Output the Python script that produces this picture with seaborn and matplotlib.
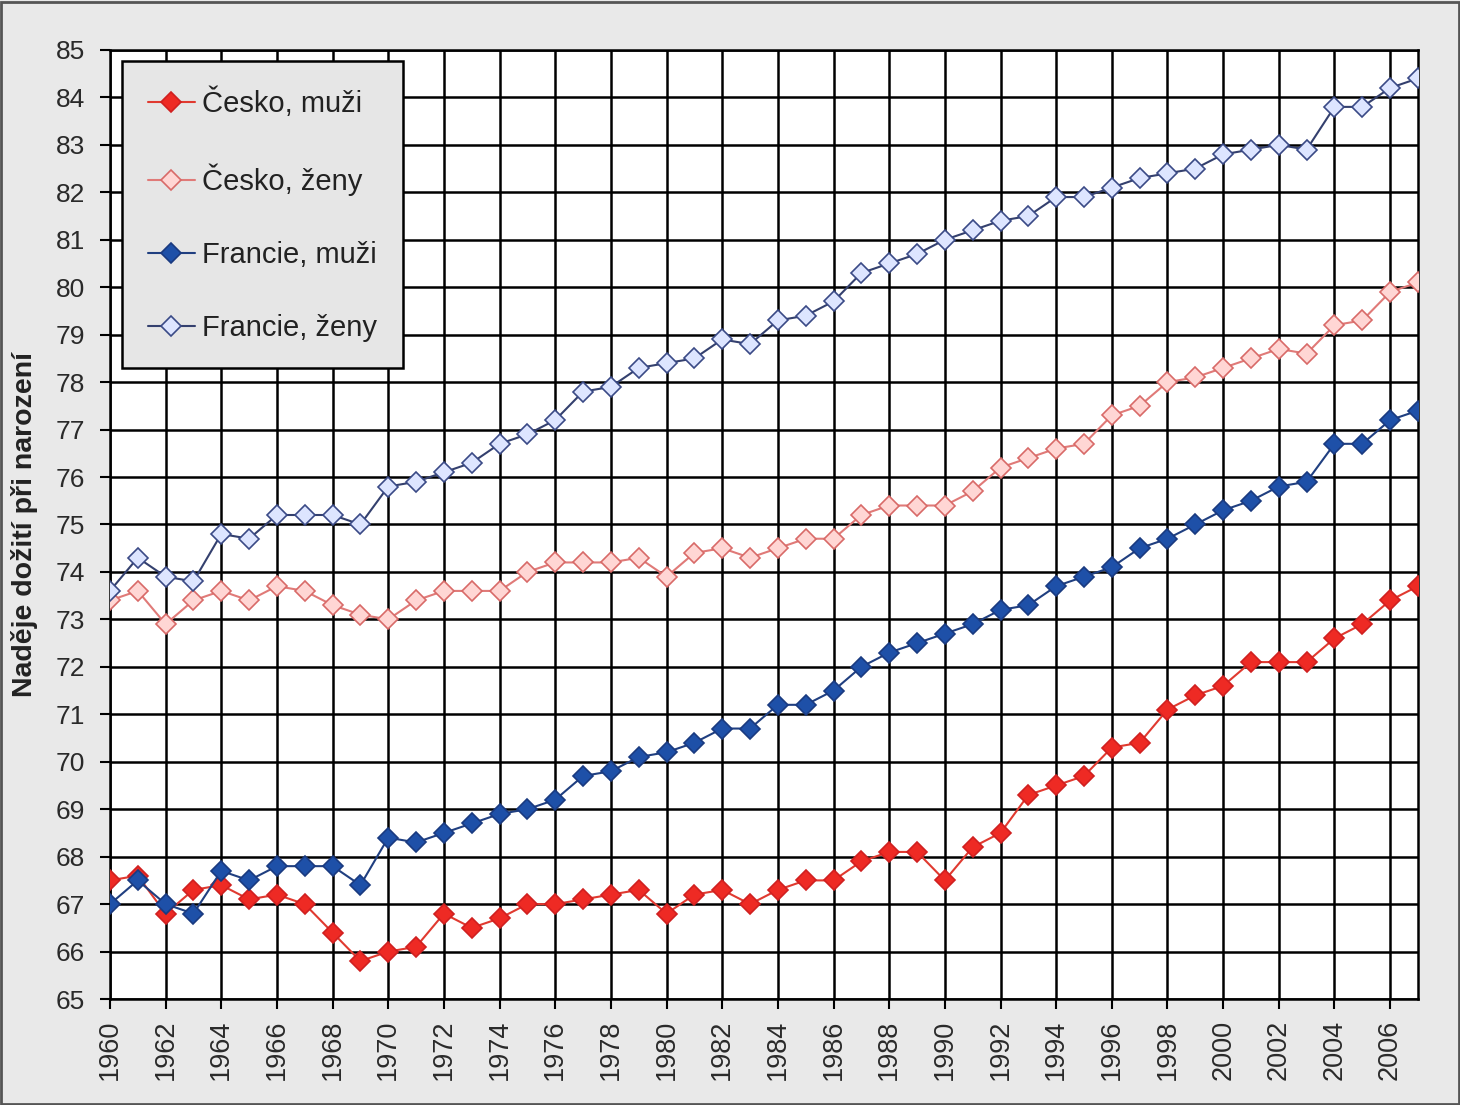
import numpy as np
import pandas as pd
import matplotlib
matplotlib.use('Agg')
import matplotlib.pyplot as plt
import seaborn as sns
from matplotlib.patches import Rectangle

years = list(range(1960, 2008))

cz_muzi = [67.5, 67.6, 66.8, 67.3, 67.4, 67.1, 67.2, 67.0, 66.4, 65.8,
           66.0, 66.1, 66.8, 66.5, 66.7, 67.0, 67.0, 67.1, 67.2, 67.3,
           66.8, 67.2, 67.3, 67.0, 67.3, 67.5, 67.5, 67.9, 68.1, 68.1,
           67.5, 68.2, 68.5, 69.3, 69.5, 69.7, 70.3, 70.4, 71.1, 71.4,
           71.6, 72.1, 72.1, 72.1, 72.6, 72.9, 73.4, 73.7]
cz_zeny = [73.4, 73.6, 72.9, 73.4, 73.6, 73.4, 73.7, 73.6, 73.3, 73.1,
           73.0, 73.4, 73.6, 73.6, 73.6, 74.0, 74.2, 74.2, 74.2, 74.3,
           73.9, 74.4, 74.5, 74.3, 74.5, 74.7, 74.7, 75.2, 75.4, 75.4,
           75.4, 75.7, 76.2, 76.4, 76.6, 76.7, 77.3, 77.5, 78.0, 78.1,
           78.3, 78.5, 78.7, 78.6, 79.2, 79.3, 79.9, 80.1]
fr_muzi = [67.0, 67.5, 67.0, 66.8, 67.7, 67.5, 67.8, 67.8, 67.8, 67.4,
           68.4, 68.3, 68.5, 68.7, 68.9, 69.0, 69.2, 69.7, 69.8, 70.1,
           70.2, 70.4, 70.7, 70.7, 71.2, 71.2, 71.5, 72.0, 72.3, 72.5,
           72.7, 72.9, 73.2, 73.3, 73.7, 73.9, 74.1, 74.5, 74.7, 75.0,
           75.3, 75.5, 75.8, 75.9, 76.7, 76.7, 77.2, 77.4]
fr_zeny = [73.6, 74.3, 73.9, 73.8, 74.8, 74.7, 75.2, 75.2, 75.2, 75.0,
           75.8, 75.9, 76.1, 76.3, 76.7, 76.9, 77.2, 77.8, 77.9, 78.3,
           78.4, 78.5, 78.9, 78.8, 79.3, 79.4, 79.7, 80.3, 80.5, 80.7,
           81.0, 81.2, 81.4, 81.5, 81.9, 81.9, 82.1, 82.3, 82.4, 82.5,
           82.8, 82.9, 83.0, 82.9, 83.8, 83.8, 84.2, 84.4]

labels = ['Česko, muži', 'Česko, ženy', 'Francie, muži', 'Francie, ženy']

df = pd.DataFrame({
    'rok': years * 4,
    'hodnota': cz_muzi + cz_zeny + fr_muzi + fr_zeny,
    'serie': [l for l in labels for _ in years],
})

# line colour, marker face, marker edge
styles = {
    'Česko, muži': ('#e03a30', '#ee2a24', '#d02020'),
    'Česko, ženy': ('#e07a78', '#ffd6d4', '#d86a68'),
    'Francie, muži': ('#203f80', '#1e50a8', '#1a3a80'),
    'Francie, ženy': ('#34406e', '#dde5ff', '#3a4a86'),
}

sns.set_style('white')
plt.rcParams['font.family'] = ['Liberation Sans', 'DejaVu Sans']

fig = plt.figure(figsize=(14.6, 11.05), dpi=100, facecolor='#e9e9e9')
ax = fig.add_axes([0.0753, 0.0959, 0.8959, 0.8589])
ax.set_facecolor('white')

for lab in labels:
    lc, fc, ec = styles[lab]
    sub = df[df['serie'] == lab]
    sns.lineplot(data=sub, x='rok', y='hodnota', ax=ax, color=lc, lw=1.5,
                 marker='D', markersize=10.5, markerfacecolor=fc,
                 markeredgecolor=ec, markeredgewidth=1.2, label=lab, zorder=3)

ax.set_xlim(1960, 2007)
ax.set_ylim(65, 85)
ax.set_xticks(years[::2])
ax.set_xticklabels([str(y) for y in years[::2]], rotation=90, fontsize=19.5)
ax.set_yticks(range(65, 86))
ax.set_yticklabels([str(v) for v in range(65, 86)], fontsize=19)
ax.tick_params(axis='y', direction='out', length=7, width=1.5, color='black',
               left=True, pad=11, labelcolor='#2a2a2a')
ax.tick_params(axis='x', direction='out', length=7, width=1.5, color='black',
               bottom=True, pad=8, labelcolor='#2a2a2a')
ax.grid(True, color='black', lw=1.8, zorder=1)
ax.set_axisbelow(True)
for s in ax.spines.values():
    s.set_color('black')
    s.set_linewidth(1.8)

ax.set_xlabel('')
ax.set_ylabel('Naděje dožití při narození', fontsize=20.5, fontweight='bold',
              color='#222222')
ax.yaxis.set_label_coords(-0.055, 0.5)

leg = ax.legend(loc='upper left', bbox_to_anchor=(0.009, 0.988),
                borderaxespad=0, fontsize=21, labelspacing=1.55,
                handlelength=1.6, handletextpad=0.25, borderpad=0.9,
                fancybox=False, framealpha=1, facecolor='#e6e6e6',
                edgecolor='black')
leg.get_frame().set_linewidth(1.8)
for t in leg.get_texts():
    t.set_color('#222222')

fig.patches.append(Rectangle((0.001, 0.001), 0.998, 0.997, transform=fig.transFigure,
                             fill=False, edgecolor='#555555', lw=2))

fig.savefig('out.png', dpi=100, facecolor=fig.get_facecolor())
